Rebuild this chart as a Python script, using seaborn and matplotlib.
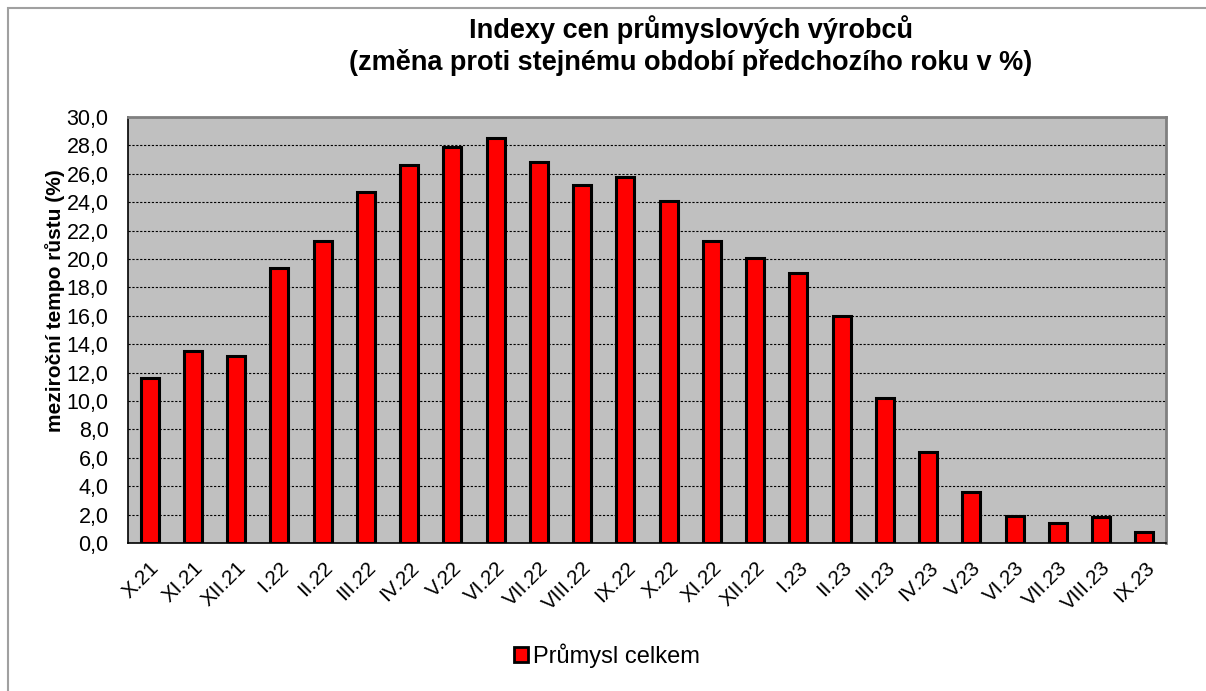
import matplotlib
matplotlib.use("Agg")
import matplotlib.pyplot as plt
import pandas as pd
import seaborn as sns
from matplotlib.patches import Rectangle
from matplotlib.ticker import FixedLocator, FuncFormatter

months = ["X.21", "XI.21", "XII.21", "I.22", "II.22", "III.22", "IV.22", "V.22",
          "VI.22", "VII.22", "VIII.22", "IX.22", "X.22", "XI.22", "XII.22", "I.23",
          "II.23", "III.23", "IV.23", "V.23", "VI.23", "VII.23", "VIII.23", "IX.23"]
growth = [11.6, 13.5, 13.2, 19.4, 21.3, 24.7, 26.6, 27.9, 28.5, 26.8, 25.2, 25.8,
          24.1, 21.3, 20.1, 19.0, 16.0, 10.2, 6.4, 3.6, 1.9, 1.4, 1.8, 0.8]
series_name = "Průmysl celkem"

title = "Indexy cen průmyslových výrobců\n(změna proti stejnému období předchozího roku v %)"
ylabel = "meziroční tempo růstu (%)"

sns.set_theme(style="white")
plt.rcParams["font.family"] = ["Liberation Sans", "DejaVu Sans"]
plt.rcParams.update({"text.color": "black", "axes.labelcolor": "black",
                     "xtick.color": "black", "ytick.color": "black"})

df = pd.DataFrame({"month": months, "value": growth, "series": series_name})

fig = plt.figure(figsize=(12.06, 6.91), dpi=100)
ax = fig.add_axes([128 / 1206, 1 - 543 / 691, (1166 - 128) / 1206, (543 - 117) / 691])

sns.barplot(data=df, x="month", y="value", hue="series", palette={series_name: "#FF0000"},
            order=months, width=0.42, saturation=1, edgecolor="black", linewidth=2.2, ax=ax)

ax.set_facecolor("#C0C0C0")
ax.set_ylim(0, 30)
ax.set_xlim(-0.5, len(months) - 0.5)
ax.yaxis.set_major_locator(FixedLocator([i * 2 for i in range(16)]))
ax.yaxis.set_major_formatter(FuncFormatter(lambda v, p: f"{v:.1f}".replace(".", ",")))
ax.grid(axis="y", color="black", linestyle=(0, (2, 1.5)), linewidth=0.8)
ax.set_axisbelow(True)

# tick marks between categories, labels centred under bars
ax.set_xticks(range(len(months)))
ax.set_xticklabels(months, rotation=45, ha="right", rotation_mode="anchor", fontsize=15)
ax.set_xticks([i - 0.5 for i in range(len(months) + 1)], minor=True)
ax.tick_params(axis="x", which="major", length=0, pad=11)
ax.tick_params(axis="x", which="minor", length=6, width=1, color="black", direction="out")
ax.tick_params(axis="y", length=6, width=1, color="black", direction="out", labelsize=15.5, pad=8)

ax.set_xlabel("")
ax.set_ylabel(ylabel, fontsize=15, fontweight="bold")
ax.yaxis.set_label_coords(-0.061, 0.568)

for s in ["left", "bottom"]:
    ax.spines[s].set_color("black")
    ax.spines[s].set_linewidth(1.2)
for s in ["top", "right"]:
    ax.spines[s].set_color("#808080")
    ax.spines[s].set_linewidth(2)

fig.suptitle(title, x=691 / 1206, y=1 - 15 / 691, fontsize=19.5, fontweight="bold",
             va="top", linespacing=1.25)

leg = ax.legend(loc="center", bbox_to_anchor=(607 / 1206, 1 - 656 / 691),
                bbox_transform=fig.transFigure, frameon=False, fontsize=17,
                handlelength=0.6, handleheight=0.6, handletextpad=0.2)
for h in leg.legend_handles:
    h.set_linewidth(2)

# outer frame (only top/left visible in the original)
fig.patches.append(Rectangle((8 / 1206, -0.1), 1.2, 1 - 8 / 691 + 0.1, transform=fig.transFigure,
                             fill=False, edgecolor="#A0A0A0", linewidth=1.5))

fig.savefig("out.png", dpi=100)
